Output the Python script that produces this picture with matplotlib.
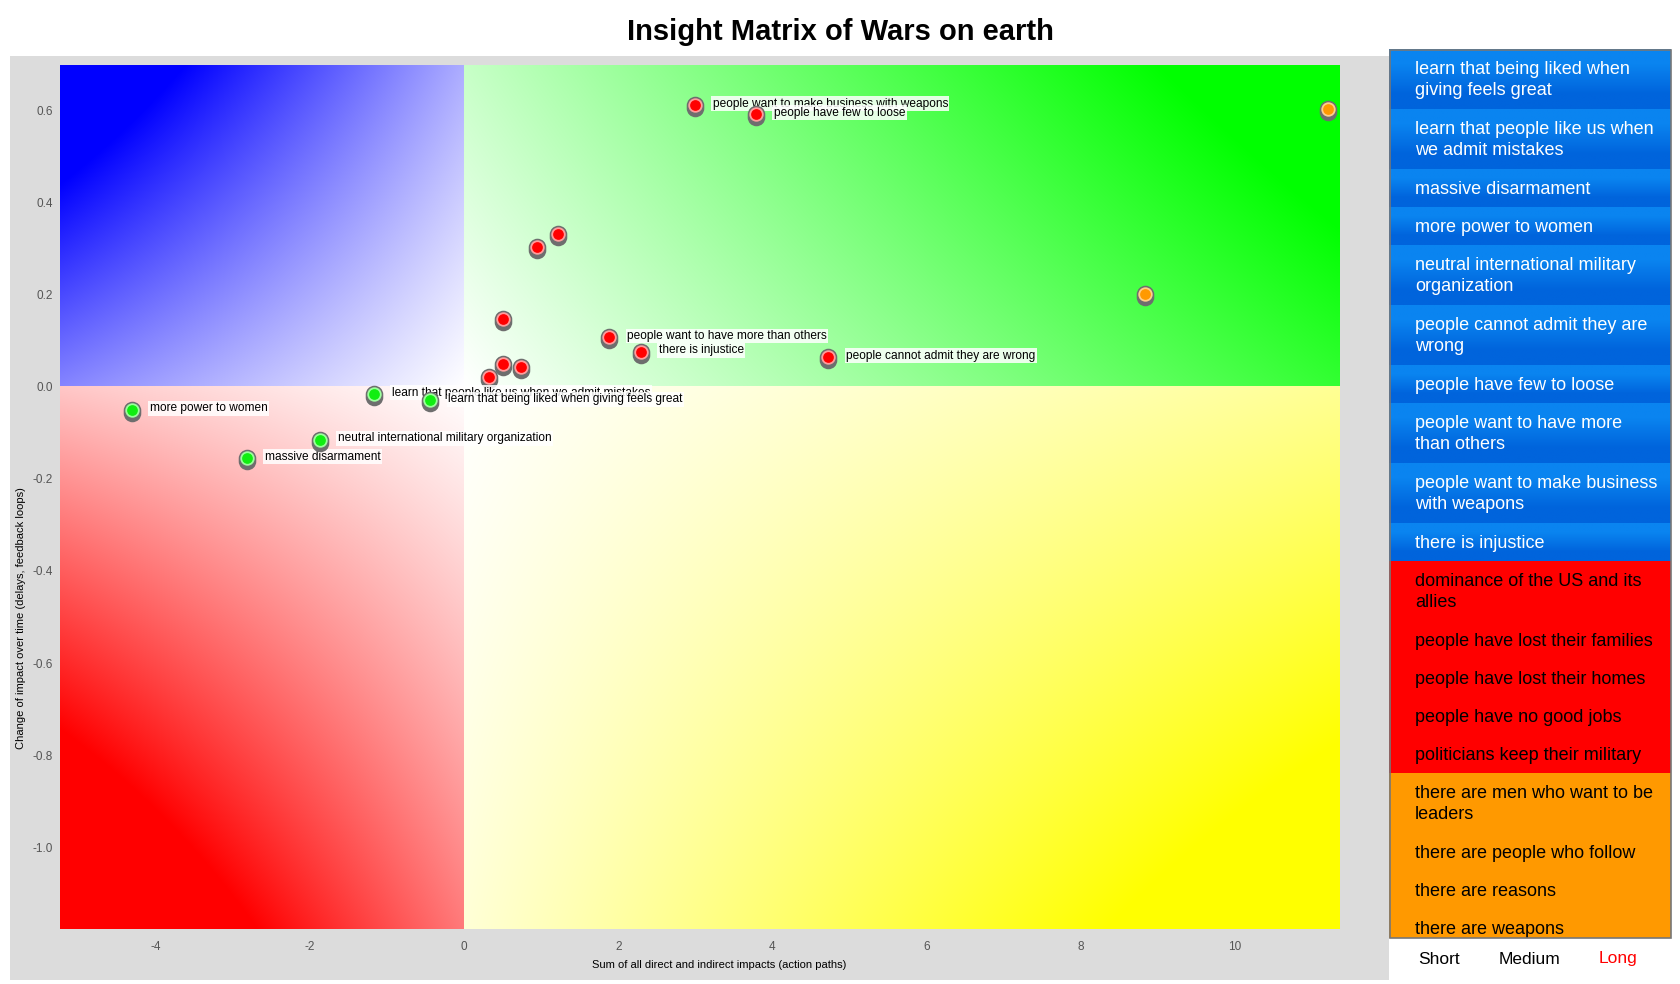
import numpy as np
import matplotlib.pyplot as plt
from matplotlib.colors import to_rgb
from matplotlib.patches import Rectangle
from matplotlib.transforms import offset_copy

plt.rcParams['font.family'] = ['Liberation Sans', 'DejaVu Sans']

W, H = 1680, 984


def fx(px):
    return px / W


def fy(py):
    return 1 - py / H


# ---- data ----
xlim = (-5.24, 11.36)
ylim = (-1.177, 0.698)
x_ticks = [-4, -2, 0, 2, 4, 6, 8, 10]
y_ticks = [-1.0, -0.8, -0.6, -0.4, -0.2, 0.0, 0.2, 0.4, 0.6]

# points in drawing order (later ones sit on top)
pt_x = [0.32, 0.74, 0.50, 0.51, 0.94, 1.22, 4.72, 2.29, 1.88, 2.99, 3.78,
        11.21, 8.83, -2.82, -1.87, -4.31, -1.17, -0.44]
pt_y = [0.021, 0.042, 0.049, 0.146, 0.304, 0.332, 0.064, 0.076, 0.107, 0.611, 0.591,
        0.602, 0.202, -0.155, -0.115, -0.050, -0.016, -0.030]
pt_kind = ['red'] * 11 + ['orange'] * 2 + ['green'] * 5
pt_label = ['', '', '', '', '', '',
            'people cannot admit they are wrong',
            'there is injustice',
            'people want to have more than others',
            'people want to make business with weapons',
            'people have few to loose',
            '', '',
            'massive disarmament',
            'neutral international military organization',
            'more power to women',
            'learn that people like us when we admit mistakes',
            'learn that being liked when giving feels great']

legend_blue = ['learn that being liked when\ngiving feels great',
               'learn that people like us when\nwe admit mistakes',
               'massive disarmament',
               'more power to women',
               'neutral international military\norganization',
               'people cannot admit they are\nwrong',
               'people have few to loose',
               'people want to have more\nthan others',
               'people want to make business\nwith weapons',
               'there is injustice']
legend_red = ['dominance of the US and its\nallies',
              'people have lost their families',
              'people have lost their homes',
              'people have no good jobs',
              'politicians keep their military']
legend_orange = ['there are men who want to be\nleaders',
                 'there are people who follow',
                 'there are reasons',
                 'there are weapons']

inner_col = {'red': '#ff0000', 'orange': '#ff9900', 'green': '#11ee11'}
edge_col = {'red': '#ff9c9c', 'orange': '#ffcf8a', 'green': '#9cff9c'}

fig = plt.figure(figsize=(16.8, 9.84), dpi=100)
fig.patch.set_facecolor('white')

# grey panel behind the plot
fig.add_artist(Rectangle((fx(10), fy(980)), (1389 - 10) / W, (980 - 56) / H,
                         transform=fig.transFigure, facecolor='#dcdcdc',
                         edgecolor='none', zorder=0))

ax = fig.add_axes([fx(60), fy(929), 1280 / W, 864 / H])
ax.set_xlim(*xlim)
ax.set_ylim(*ylim)


def quadrant(x0, x1, y0, y1, color, tx, ty, tc):
    # bilinear shading: 0 at origin, tx at far x edge, ty at far y edge, tc at far corner
    n = 240
    xs = np.linspace(x0, x1, n)
    ys = np.linspace(y0, y1, n)
    xfar = x0 if abs(x0) > abs(x1) else x1
    yfar = y0 if abs(y0) > abs(y1) else y1
    U, V = np.meshgrid(np.abs(xs) / abs(xfar), np.abs(ys) / abs(yfar))
    t = tx * U * (1 - V) + ty * (1 - U) * V + tc * U * V
    t = np.clip(t, 0, 1)[..., None]
    rgb = 1 - t * (1 - np.array(to_rgb(color)))
    ax.imshow(rgb, extent=(x0, x1, y0, y1), origin='lower', aspect='auto',
              interpolation='bilinear', zorder=0)


quadrant(xlim[0], 0, 0, ylim[1], '#0000ff', 0.48, 0.32, 1.3)
quadrant(0, xlim[1], 0, ylim[1], '#00ff00', 0.8, 0.22, 1.2)
quadrant(xlim[0], 0, ylim[0], 0, '#ff0000', 0.22, 0.52, 1.45)
quadrant(0, xlim[1], ylim[0], 0, '#ffff00', 0.42, 0.16, 1.3)
ax.set_xlim(*xlim)
ax.set_ylim(*ylim)

shadow = offset_copy(ax.transData, fig=fig, x=0, y=-3, units='dots')
z = 3
for x, y, k, lab in zip(pt_x, pt_y, pt_kind, pt_label):
    ax.scatter([x], [y], s=160, color='#6e6e6e', linewidths=0,
               transform=shadow, zorder=z)
    ax.scatter([x], [y], s=160, color='#6e6e6e', linewidths=0, zorder=z + 0.1)
    ax.scatter([x], [y], s=82, color=inner_col[k], edgecolors=edge_col[k],
               linewidths=1.3, zorder=z + 0.2)
    if lab:
        ax.annotate(lab, (x, y), xytext=(13, 1), textcoords='offset points',
                    ha='left', va='center', fontsize=8.6, color='black',
                    bbox=dict(boxstyle='square,pad=0.12', facecolor='white',
                              edgecolor='none', alpha=0.85),
                    zorder=z + 0.3)
    z += 1

ax.set_xticks(x_ticks)
ax.set_xticklabels([str(v) for v in x_ticks])
ax.set_yticks(y_ticks)
ax.set_yticklabels(['%.1f' % v for v in y_ticks])
ax.tick_params(length=0, labelsize=8.5, labelcolor='#555555')
ax.tick_params(axis='x', pad=9)
ax.tick_params(axis='y', pad=5)
for s in ax.spines.values():
    s.set_visible(False)

fig.text(0.5, fy(32), 'Insight Matrix of Wars on earth', ha='center', va='center',
         fontsize=21, fontweight='bold')
fig.text(fx(719), fy(965), 'Sum of all direct and indirect impacts (action paths)',
         ha='center', va='center', fontsize=8)
fig.text(fx(21), fy(618), 'Change of impact over time (delays, feedback loops)',
         ha='center', va='center', rotation=90, fontsize=8)

# legend panel on the right
lx0, lx1, ly0, ly1 = 1389, 1671, 49, 937.5
lax = fig.add_axes([fx(lx0), fy(ly1), (lx1 - lx0) / W, (ly1 - ly0) / H])
lax.set_xlim(0, lx1 - lx0)
lax.set_ylim(ly1 - ly0, 0)
lax.axis('off')

rows = ([(t, 'blue') for t in legend_blue] + [(t, 'red') for t in legend_red]
        + [(t, 'orange') for t in legend_orange])
grad = np.array([to_rgb('#0a84f0'), to_rgb('#0064dc')])[:, None, :]
yc = 0
for text, kind in rows:
    h = 60 if '\n' in text else 38
    if kind == 'blue':
        lax.imshow(grad, extent=(0, lx1 - lx0, yc + h, yc), origin='upper',
                   aspect='auto', interpolation='bilinear', zorder=1)
        tcol = 'white'
    else:
        lax.add_patch(Rectangle((0, yc), lx1 - lx0, h, zorder=1, edgecolor='none',
                                facecolor='#ff0000' if kind == 'red' else '#ff9900'))
        tcol = 'black'
    lax.text(26, yc + h / 2 + 1, text, ha='left', va='center', fontsize=13,
             color=tcol, linespacing=1.25, zorder=2, clip_on=True)
    yc += h
lax.set_xlim(0, lx1 - lx0)
lax.set_ylim(ly1 - ly0, 0)
lax.add_patch(Rectangle((0.5, 0.5), lx1 - lx0, ly1 - ly0, facecolor='none',
                        edgecolor='#777777', linewidth=1.2, zorder=3, clip_on=False))

for lab, px, c in [('Short', 1439, 'black'), ('Medium', 1530, 'black'), ('Long', 1618, 'red')]:
    fig.text(fx(px), fy(959), lab, ha='center', va='center', fontsize=12.5, color=c)

fig.savefig('out.png', dpi=100)
